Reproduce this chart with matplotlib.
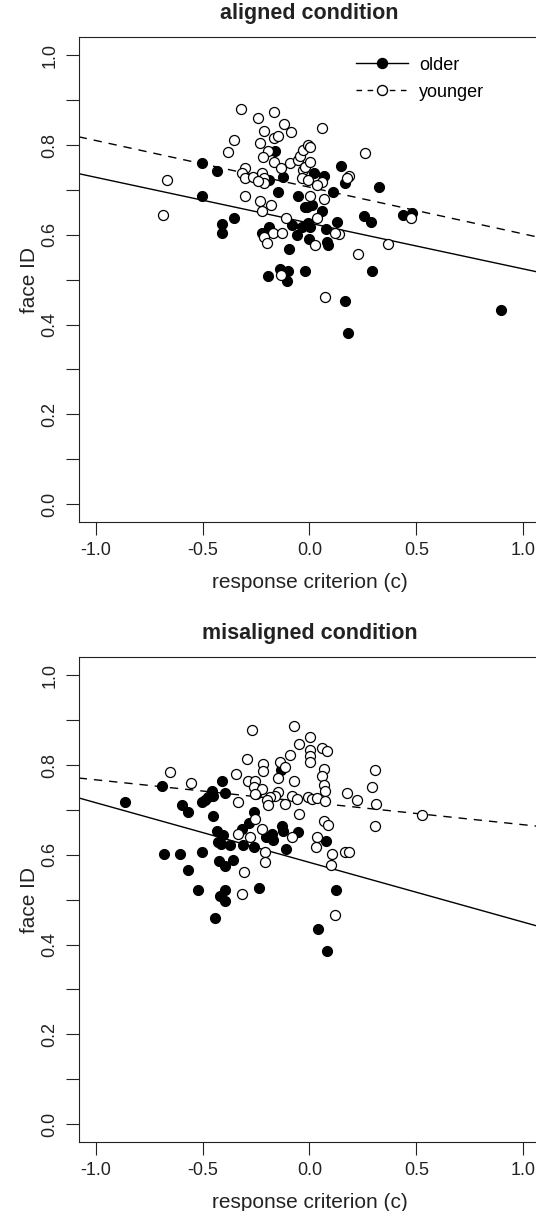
import numpy as np
import matplotlib.pyplot as plt
from matplotlib.lines import Line2D

plt.rcParams['font.family'] = ['Liberation Sans', 'DejaVu Sans']

# ---- aligned condition ----
al_old_c = [-0.501, -0.431, -0.501, -0.353, -0.411, -0.411, -0.187, -0.122, -0.145, -0.055,
            -0.161, -0.223, -0.187, -0.083, -0.036, -0.060, -0.023, -0.098, -0.138, -0.102,
            -0.195, -0.103, -0.021, 0.148, 0.167, 0.326, 0.023, 0.070, 0.112, -0.013,
            0.011, 0.058, 0.253, 0.289, 0.440, 0.479, 0.128, -0.005, 0.003, 0.076,
            -0.002, 0.081, 0.086, 0.295, 0.167, 0.179, 0.896]
al_old_id = [0.761, 0.741, 0.686, 0.637, 0.624, 0.603, 0.722, 0.728, 0.696, 0.686,
             0.786, 0.603, 0.618, 0.622, 0.618, 0.600, 0.662, 0.568, 0.523, 0.520,
             0.508, 0.496, 0.519, 0.753, 0.716, 0.707, 0.737, 0.731, 0.696, 0.662,
             0.666, 0.654, 0.642, 0.629, 0.644, 0.649, 0.629, 0.626, 0.618, 0.612,
             0.590, 0.585, 0.577, 0.520, 0.453, 0.382, 0.432]

al_young_c = [-0.320, -0.239, -0.164, -0.117, -0.086, -0.214, -0.164, -0.145, -0.355, -0.231,
              -0.379, -0.192, -0.217, -0.164, -0.091, -0.052, -0.044, -0.028, -0.005, -0.028,
              -0.133, -0.302, -0.317, -0.302, -0.263, -0.223, -0.215, -0.211, -0.239, -0.302,
              -0.231, -0.180, -0.223, -0.111, -0.668, -0.686, -0.169, -0.130, -0.215, -0.200,
              -0.036, -0.006, -0.023, 0.058, 0.260, 0.003, 0.003, 0.183, 0.175, 0.058,
              0.035, 0.070, 0.003, 0.476, 0.034, 0.136, 0.120, 0.367, 0.026, 0.229,
              0.073, -0.133]
al_young_id = [0.881, 0.861, 0.874, 0.846, 0.828, 0.832, 0.815, 0.820, 0.811, 0.804,
               0.784, 0.786, 0.774, 0.763, 0.760, 0.766, 0.775, 0.789, 0.800, 0.744,
               0.748, 0.748, 0.737, 0.726, 0.728, 0.737, 0.726, 0.715, 0.720, 0.686,
               0.675, 0.666, 0.654, 0.637, 0.723, 0.644, 0.603, 0.603, 0.596, 0.581,
               0.726, 0.722, 0.752, 0.837, 0.783, 0.796, 0.763, 0.731, 0.726, 0.718,
               0.711, 0.679, 0.686, 0.637, 0.637, 0.602, 0.603, 0.580, 0.577, 0.557,
               0.462, 0.511]

# ---- misaligned condition ----
mis_old_c = [-0.135, -0.691, -0.411, -0.456, -0.397, -0.451, -0.474, -0.490, -0.505, -0.250,
             -0.864, -0.598, -0.570, -0.451, -0.259, -0.283, -0.130, -0.434, -0.317, -0.404,
             -0.427, -0.412, -0.373, -0.312, -0.259, -0.205, -0.177, -0.169, -0.122, -0.111,
             -0.055, 0.078, -0.680, -0.604, -0.502, -0.423, -0.395, -0.357, -0.570, -0.523,
             -0.419, -0.396, -0.393, -0.236, 0.123, -0.442, 0.040, 0.080]
mis_old_id = [0.789, 0.754, 0.764, 0.743, 0.737, 0.732, 0.728, 0.722, 0.717, 0.736,
              0.717, 0.710, 0.696, 0.687, 0.696, 0.670, 0.664, 0.654, 0.658, 0.643,
              0.628, 0.624, 0.621, 0.622, 0.617, 0.639, 0.647, 0.632, 0.654, 0.613,
              0.650, 0.630, 0.602, 0.602, 0.606, 0.587, 0.576, 0.589, 0.567, 0.522,
              0.509, 0.522, 0.498, 0.527, 0.522, 0.458, 0.435, 0.385]

mis_young_c = [-0.267, -0.070, -0.047, -0.091, -0.290, -0.219, -0.138, -0.114, -0.219, -0.653,
               -0.344, -0.149, -0.555, -0.287, -0.255, -0.070, -0.258, -0.223, -0.255, -0.146,
               -0.161, -0.185, -0.200, -0.192, -0.336, -0.114, -0.083, -0.059, -0.255, -0.049,
               -0.223, -0.334, -0.279, -0.083, 0.066, 0.089, 0.034, 0.030, 0.104, 0.101,
               0.167, 0.183, -0.209, -0.206, -0.304, -0.317, 0.120, 0.003, 0.058, 0.081,
               0.003, 0.003, 0.003, 0.070, 0.058, 0.307, 0.070, 0.073, 0.292, 0.175,
               0.222, 0.310, 0.525, -0.005, 0.011, 0.034, 0.073, 0.307]
mis_young_id = [0.877, 0.886, 0.847, 0.823, 0.814, 0.802, 0.806, 0.796, 0.786, 0.785,
                0.780, 0.771, 0.759, 0.765, 0.765, 0.764, 0.750, 0.747, 0.736, 0.739,
                0.732, 0.728, 0.722, 0.712, 0.717, 0.713, 0.730, 0.725, 0.680, 0.690,
                0.658, 0.647, 0.639, 0.639, 0.675, 0.667, 0.639, 0.617, 0.601, 0.578,
                0.606, 0.606, 0.606, 0.585, 0.561, 0.513, 0.465, 0.863, 0.838, 0.831,
                0.834, 0.819, 0.806, 0.791, 0.776, 0.789, 0.756, 0.743, 0.750, 0.738,
                0.722, 0.713, 0.689, 0.728, 0.725, 0.727, 0.719, 0.665]

# fitted lines as drawn (intercept, slope)
al_old_fit = (0.626, -0.102)
al_young_fit = (0.706, -0.104)
mis_old_fit = (0.583, -0.133)
mis_young_fit = (0.717, -0.050)

W, H = 536, 1211
fig = plt.figure(figsize=(W / 100, H / 100), dpi=100)

left = 78.7 / W
width = 461.5 / W
height = 484.7 / H
ax1 = fig.add_axes([left, 1 - 522 / H, width, height])
ax2 = fig.add_axes([left, 1 - 1142 / H, width, height])


def panel(ax, title, old_c, old_id, young_c, young_id, old_fit, young_fit):
    xl = np.array([-1.08, 1.08])
    ax.plot(xl, old_fit[0] + old_fit[1] * xl, color='black', lw=1.0, zorder=2)
    ax.plot(xl, young_fit[0] + young_fit[1] * xl, color='black', lw=1.0,
            dashes=(6, 5), zorder=2)
    ax.scatter(old_c, old_id, s=52, facecolor='black', edgecolor='black', lw=0.8, zorder=3)
    ax.scatter(young_c, young_id, s=52, facecolor='white', edgecolor='black', lw=0.9, zorder=3)

    ax.set_xlim(-1.08, 1.08)
    ax.set_ylim(-0.04, 1.04)
    ax.set_xticks([-1.0, -0.5, 0.0, 0.5, 1.0])
    ax.set_xticklabels(['-1.0', '-0.5', '0.0', '0.5', '1.0'])
    ax.set_yticks([0.0, 0.2, 0.4, 0.6, 0.8, 1.0])
    ax.set_yticklabels(['0.0', '0.2', '0.4', '0.6', '0.8', '1.0'])
    ax.set_yticks(np.arange(0.1, 1.0, 0.2), minor=True)
    ax.tick_params(which='both', direction='out', length=9.5, width=0.8, labelsize=13,
                   color='#222222', labelcolor='#222222')
    ax.tick_params(axis='x', pad=5)
    ax.tick_params(axis='y', pad=5)
    for lab in ax.get_yticklabels():
        lab.set_rotation(90)
        lab.set_va('center')
    for sp in ax.spines.values():
        sp.set_linewidth(0.8)
        sp.set_color('#222222')

    ax.set_xlabel('response criterion (c)', fontsize=15, color='#222222')
    ax.set_ylabel('face ID', fontsize=15, color='#222222')
    ax.xaxis.set_label_coords(0.5, -51 / 484.7)
    ax.yaxis.set_label_coords(-40 / 461.5, 0.5)
    ax.set_title(title, fontsize=15.5, fontweight='bold', pad=13, color='#222222')


panel(ax1, 'aligned condition', al_old_c, al_old_id, al_young_c, al_young_id,
      al_old_fit, al_young_fit)
panel(ax2, 'misaligned condition', mis_old_c, mis_old_id, mis_young_c, mis_young_id,
      mis_old_fit, mis_young_fit)

handles = [Line2D([0], [0], color='black', lw=1.0, marker='o', ms=7.2,
                  mfc='black', mec='black'),
           Line2D([0], [0], color='black', lw=1.0, dashes=(4, 4), marker='o', ms=7.2,
                  mfc='white', mec='black')]
ax1.legend(handles, ['older', 'younger'], loc='upper left', bbox_to_anchor=(0.6, 0.96),
           frameon=False, fontsize=13, handlelength=2.9, handletextpad=0.6,
           labelspacing=0.55, borderaxespad=0, borderpad=0)

fig.savefig('out.png', dpi=100, facecolor='white')
